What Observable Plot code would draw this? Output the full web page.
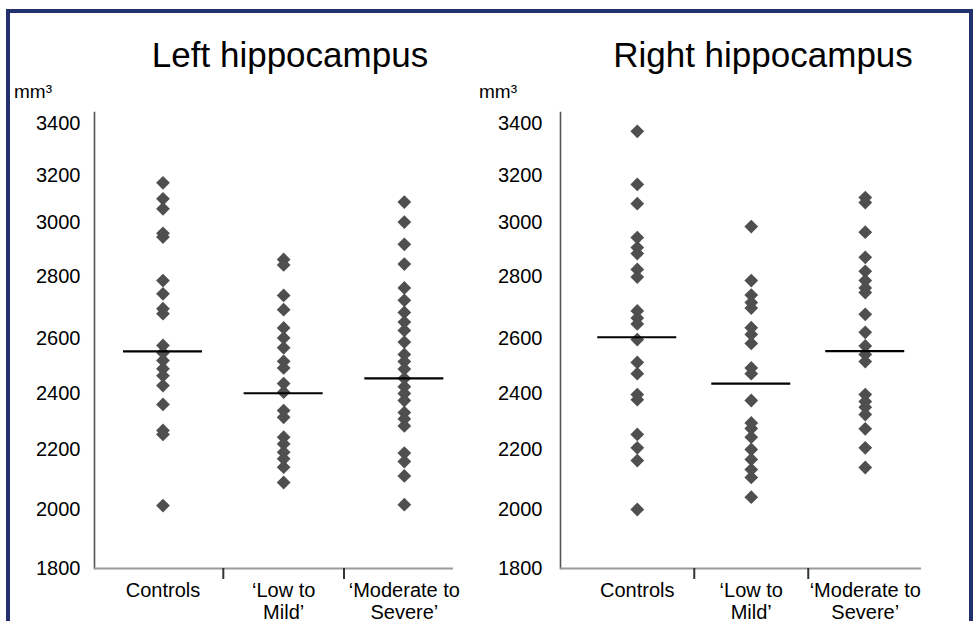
<!DOCTYPE html>
<html>
<head>
<meta charset="utf-8">
<script src="https://cdn.jsdelivr.net/npm/d3@7"></script>
<script src="https://cdn.jsdelivr.net/npm/@observablehq/plot@0.6"></script>
<style>
html, body { margin: 0; padding: 0; background: #fff; width: 973px; height: 621px; overflow: hidden; font-family: "Liberation Sans", Arial, sans-serif; }
#page { position: relative; width: 973px; height: 621px; overflow: hidden; background: #fff; }
.border { position: absolute; left: 6px; top: 9px; width: 967px; height: 700px; box-sizing: border-box; border: 4px solid #22306e; z-index: 5; pointer-events: none; }
.title { position: absolute; top: 37px; width: 400px; text-align: center; font-size: 35px; line-height: 35px; color: #000; white-space: nowrap; }
.unit { position: absolute; top: 82px; font-size: 19px; line-height: 19px; color: #000; }
.panel { position: absolute; top: 0; width: 480px; height: 640px; }
.panel svg { overflow: visible; max-width: none; background: transparent; }
</style>
</head>
<body>
<div id="page">
  <div class="title" style="left:90px">Left hippocampus</div>
  <div class="title" style="left:563px">Right hippocampus</div>
  <div class="unit" style="left:14px">mm³</div>
  <div class="unit" style="left:479px">mm³</div>
  <div class="panel" id="left" style="left:0px"></div>
  <div class="panel" id="right" style="left:466px"></div>
  <div class="border"></div>
</div>
<script>
// ---- data ----
const categories = ["Controls", "\u2018Low to Mild\u2019", "\u2018Moderate to Severe\u2019"];
const categoryLabels = ["Controls", "\u2018Low to\nMild\u2019", "\u2018Moderate to\nSevere\u2019"];
const yTicks = [1800, 2000, 2200, 2400, 2600, 2800, 3000, 3200, 3400];

const leftControls = [3169, 3101, 3058, 2960, 2946, 2787, 2744, 2696, 2680, 2575, 2548, 2520, 2490, 2465, 2429, 2361, 2268, 2254, 2013];
const leftLowMild = [2863, 2843, 2739, 2693, 2634, 2602, 2566, 2517, 2493, 2436, 2405, 2339, 2315, 2244, 2220, 2191, 2169, 2141, 2090];
const leftModSevere = [3087, 3002, 2919, 2846, 2763, 2723, 2684, 2653, 2626, 2587, 2542, 2516, 2489, 2455, 2425, 2400, 2375, 2332, 2309, 2284, 2188, 2160, 2112, 2016];
const leftMeans = [2553, 2401, 2455];

const rightControls = [3370, 3162, 3080, 2944, 2907, 2885, 2826, 2798, 2689, 2666, 2647, 2596, 2513, 2472, 2396, 2378, 2254, 2206, 2163, 2000];
const rightLowMild = [2985, 2787, 2740, 2716, 2698, 2635, 2613, 2582, 2493, 2472, 2375, 2295, 2275, 2244, 2200, 2167, 2133, 2107, 2041];
const rightModSevere = [3106, 3085, 2964, 2871, 2819, 2787, 2763, 2748, 2678, 2620, 2573, 2542, 2516, 2396, 2371, 2351, 2325, 2274, 2206, 2140];
const rightMeans = [2604, 2436, 2554];

// ---- layout (not data) ----
const layout = {
  width: 480, height: 640, marginLeft: 94, marginTop: 112,
  yRange: [568, 509, 449, 393, 338, 276, 222, 175, 123] // tick positions as drawn in the original figure
};
const panels = [
  {id: "left", series: [leftControls, leftLowMild, leftModSevere], means: leftMeans,
   marginRight: 27, paddingInner: 0.345, paddingOuter: 0.16, align: 0.75, tickPadding: 14},
  {id: "right", series: [rightControls, rightLowMild, rightModSevere], means: rightMeans,
   marginRight: 25, paddingInner: 0.307, paddingOuter: 0.237, align: 0.69, tickPadding: 18}
];

for (const p of panels) {
  const rows = p.series.flatMap((vals, i) => vals.map(v => ({group: categories[i], value: v})));
  const meanRows = p.means.map((m, i) => ({group: categories[i], value: m}));
  const xOpts = {
    type: "band", domain: categories,
    range: [layout.marginLeft, layout.width - p.marginRight],
    paddingInner: p.paddingInner, paddingOuter: p.paddingOuter, align: p.align, round: false
  };
  const step = Plot.scale({x: xOpts}).step;
  const labelOf = new Map(categories.map((c, i) => [c, categoryLabels[i]]));
  const chart = Plot.plot({
    width: layout.width,
    height: layout.height,
    marginLeft: layout.marginLeft,
    marginRight: p.marginRight,
    marginTop: layout.marginTop,
    marginBottom: layout.height - layout.yRange[0],
    x: {...xOpts, axis: null},
    y: {type: "linear", domain: yTicks, range: layout.yRange, axis: null},
    style: {fontFamily: "'Liberation Sans', Arial, sans-serif", background: "transparent", overflow: "visible", color: "#000"},
    marks: [
      Plot.frame({anchor: "left", stroke: "#555", strokeWidth: 1.6}),
      Plot.ruleY([1800], {stroke: "#9a9a9a", strokeWidth: 2}),
      Plot.ruleX(categories.slice(1), {x: d => d, y1: 1800, y2: 1800, insetBottom: -11, dx: -step / 2, stroke: "#333", strokeWidth: 2}),
      Plot.axisY({ticks: yTicks, tickSize: 0, tickPadding: p.tickPadding, fontSize: 20, tickFormat: d => String(d), label: null}),
      Plot.axisX({tickSize: 0, tickPadding: 13, fontSize: 20, lineHeight: 1.1, tickFormat: d => labelOf.get(d), label: null}),
      Plot.dot(rows, {x: "group", y: "value", symbol: "diamond2", r: 6.2, fill: "#4f4f4f", stroke: "none"}),
      Plot.tickY(meanRows, {x: "group", y: "value", stroke: "#000", strokeWidth: 2.2})
    ]
  });
  document.getElementById(p.id).appendChild(chart);
}
</script>
</body>
</html>
